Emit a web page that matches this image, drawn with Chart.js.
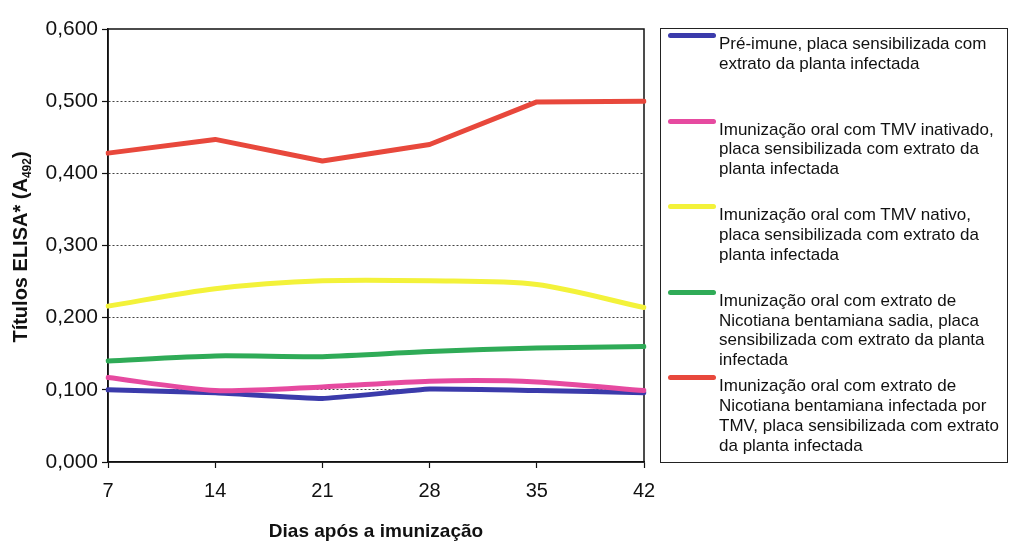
<!DOCTYPE html>
<html>
<head>
<meta charset="utf-8">
<script src="https://cdn.jsdelivr.net/npm/chart.js@4.4.1/dist/chart.umd.min.js"></script>
<style>
  html, body { margin: 0; padding: 0; background: #fff; }
  #wrap { position: relative; width: 1011px; height: 547px; }
  #legenda {
    position: absolute; left: 660px; top: 28px; width: 348px; height: 435px;
    border: 1.5px solid #222; box-sizing: border-box;
    font-family: "Liberation Sans", Arial, sans-serif; font-size: 17px; color: #111;
  }
  .item { position: absolute; left: 0; right: 0; }
  .amostra { position: absolute; left: 7px; top: -9px; width: 48px; height: 5px; border-radius: 3px; }
  .texto { position: absolute; left: 58px; top: -8px; line-height: 19.7px; white-space: nowrap; }
</style>
</head>
<body>
<div id="wrap">
  <canvas id="grafico" width="1011" height="547"></canvas>
  <div id="legenda"></div>
</div>
<script>
// Dias após a imunização
const dias = ['7', '14', '21', '28', '35', '42'];

// Títulos ELISA (A492) por grupo
const preImune     = [0.100, 0.096, 0.088, 0.101, 0.099, 0.096];
const tmvInativado = [0.117, 0.099, 0.104, 0.112, 0.111, 0.099];
const tmvNativo    = [0.216, 0.240, 0.251, 0.251, 0.246, 0.214];
const nbSadia      = [0.140, 0.147, 0.146, 0.153, 0.158, 0.160];
const nbInfectada  = [0.428, 0.447, 0.417, 0.440, 0.499, 0.500];

const yTicks = [0, 0.1, 0.2, 0.3, 0.4, 0.5, 0.6];

const rotulos = [
  ['Pré-imune, placa sensibilizada com', 'extrato da planta infectada'],
  ['Imunização oral com TMV inativado,', 'placa sensibilizada com extrato da', 'planta infectada'],
  ['Imunização oral com TMV nativo,', 'placa sensibilizada com extrato da', 'planta infectada'],
  ['Imunização oral com extrato de', 'Nicotiana bentamiana sadia, placa', 'sensibilizada com extrato da planta', 'infectada'],
  ['Imunização oral com extrato de', 'Nicotiana bentamiana infectada por', 'TMV, placa sensibilizada com extrato', 'da planta infectada']
];
const cores = ['#3b3bab', '#e64aa0', '#f3f23a', '#2fab57', '#e8483c'];
const suavizar = [0.1, 0.25, 0.3, 0.25, 0];
const series = [preImune, tmvInativado, tmvNativo, nbSadia, nbInfectada];

const fmt = v => v.toFixed(3).replace('.', ',');

// moldura da área de plotagem (topo e lado direito)
const moldura = {
  id: 'moldura',
  beforeDatasetsDraw(chart) {
    const { ctx, chartArea: a } = chart;
    ctx.save();
    ctx.strokeStyle = '#111';
    ctx.lineWidth = 1.5;
    ctx.strokeRect(a.left, a.top, a.right - a.left, a.bottom - a.top);
    ctx.restore();
  }
};

// título do eixo Y com subscrito
const tituloY = {
  id: 'tituloY',
  afterDraw(chart) {
    const ctx = chart.ctx;
    const big = 'bold 20px "Liberation Sans", Arial, sans-serif';
    const small = 'bold 12px "Liberation Sans", Arial, sans-serif';
    const p1 = 'Títulos ELISA* (A', sub = '492', p2 = ')';
    ctx.save();
    ctx.font = big; const w1 = ctx.measureText(p1).width, w3 = ctx.measureText(p2).width;
    ctx.font = small; const w2 = ctx.measureText(sub).width;
    const total = w1 + w2 + w3;
    ctx.translate(27, 247);
    ctx.rotate(-Math.PI / 2);
    ctx.fillStyle = '#111';
    ctx.textBaseline = 'alphabetic';
    let x = -total / 2;
    ctx.font = big; ctx.fillText(p1, x, 0); x += w1;
    ctx.font = small; ctx.fillText(sub, x, 4); x += w2;
    ctx.font = big; ctx.fillText(p2, x, 0);
    ctx.restore();
  }
};

const datasets = series.map((d, i) => ({
  label: rotulos[i].join(' '),
  data: d,
  borderColor: cores[i],
  backgroundColor: cores[i],
  borderWidth: 5,
  pointRadius: 0,
  tension: suavizar[i],
  order: 5 - i,
  borderCapStyle: 'round',
  borderJoinStyle: 'round'
}));

new Chart(document.getElementById('grafico'), {
  type: 'line',
  data: { labels: dias, datasets },
  options: {
    responsive: false,
    animation: false,
    layout: { padding: { top: 29, right: 367, left: 0, bottom: 0 } },
    plugins: { legend: { display: false }, tooltip: { enabled: false } },
    scales: {
      x: {
        offset: false,
        afterFit(s) { s.height = 85; },
        grid: { drawOnChartArea: false, drawTicks: true, tickLength: 6, tickColor: '#111', tickWidth: 1.2 },
        border: { color: '#111', width: 1.5 },
        ticks: { color: '#111', padding: 11, font: { family: '"Liberation Sans", Arial, sans-serif', size: 20 } },
        title: {
          display: true, text: 'Dias após a imunização', color: '#111',
          font: { family: '"Liberation Sans", Arial, sans-serif', size: 19, weight: 'bold' },
          padding: { top: 4, bottom: 4 }
        }
      },
      y: {
        min: 0, max: 0.6,
        afterFit(s) { s.width = 108; },
        afterBuildTicks(s) { s.ticks = yTicks.map(v => ({ value: v })); },
        grid: {
          color: c => (c.tick && (c.tick.value === 0 || c.tick.value === 0.6)) ? 'rgba(0,0,0,0)' : '#444',
          lineWidth: 1, tickLength: 6, tickColor: '#111', tickWidth: 1.2
        },
        border: { color: '#111', width: 1.5, dash: [2, 2] },
        ticks: {
          color: '#111', padding: 4,
          font: { family: '"Liberation Sans", Arial, sans-serif', size: 21 },
          callback: v => fmt(v)
        }
      }
    }
  },
  plugins: [moldura, tituloY]
});

// legenda em HTML à direita
const legenda = document.getElementById('legenda');
rotulos.forEach((linhas, i) => {
  const item = document.createElement('div');
  item.className = 'item';
  item.style.top = (13 + i * 85.6) + 'px';
  const amostra = document.createElement('div');
  amostra.className = 'amostra';
  amostra.style.background = cores[i];
  const texto = document.createElement('div');
  texto.className = 'texto';
  texto.innerHTML = linhas.join('<br>');
  item.appendChild(amostra);
  item.appendChild(texto);
  legenda.appendChild(item);
});
</script>
</body>
</html>
